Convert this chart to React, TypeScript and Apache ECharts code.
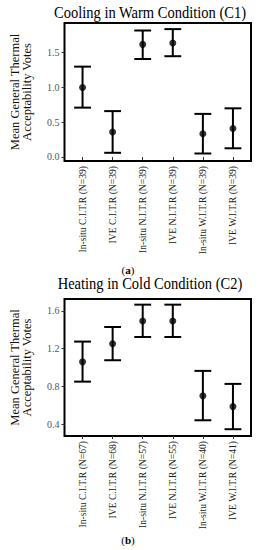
import React, { useEffect, useRef } from "react";
import * as echarts from "echarts";

const categories1 = [
  "In-situ C.I.T.R (N=39)",
  "IVE C.I.T.R (N=39)",
  "In-situ N.I.T.R (N=39)",
  "IVE N.I.T.R (N=39)",
  "In-situ W.I.T.R (N=39)",
  "IVE W.I.T.R (N=39)",
];
const mean1 = [1.0, 0.36, 1.62, 1.64, 0.335, 0.41];
const lower1 = [0.71, 0.06, 1.41, 1.45, 0.05, 0.125];
const upper1 = [1.3, 0.66, 1.82, 1.84, 0.62, 0.7];
const yTicks1 = [0, 0.5, 1.0, 1.5];

const categories2 = [
  "In-situ C.I.T.R (N=67)",
  "IVE C.I.T.R (N=68)",
  "In-situ N.I.T.R (N=57)",
  "IVE N.I.T.R (N=55)",
  "In-situ W.I.T.R (N=40)",
  "IVE W.I.T.R (N=41)",
];
const mean2 = [1.06, 1.253, 1.494, 1.494, 0.699, 0.585];
const lower2 = [0.85, 1.077, 1.324, 1.324, 0.44, 0.345];
const upper2 = [1.275, 1.43, 1.667, 1.667, 0.964, 0.826];
const yTicks2 = [0.4, 0.8, 1.2, 1.6];

const FONT = "Liberation Serif";
const xPos = [1, 2, 3, 4, 5, 6];

function makeX(idx: number, cats: string[]) {
  return {
    type: "value",
    gridIndex: idx,
    min: 0.4,
    max: 6.6,
    splitLine: { show: false },
    axisLine: { show: false },
    axisTick: { show: true, customValues: xPos, length: 3, lineStyle: { color: "#333", width: 1 } },
    axisLabel: {
      customValues: xPos,
      rotate: 90,
      margin: 5,
      fontFamily: FONT,
      fontSize: 9.6,
      color: "#222",
      formatter: (v: number) => cats[Math.round(v) - 1] ?? "",
    },
  };
}

function makeY(idx: number, min: number, max: number, ticks: number[]) {
  return {
    type: "value",
    gridIndex: idx,
    min,
    max,
    splitLine: { show: false },
    axisLine: { show: false },
    axisTick: { show: true, customValues: ticks, length: 3, lineStyle: { color: "#333", width: 1 } },
    axisLabel: {
      customValues: ticks,
      margin: 5,
      fontFamily: FONT,
      fontSize: 10,
      color: "#555",
      formatter: (v: number) => v.toFixed(1),
    },
    name: "Mean General Thermal\nAcceptability Votes",
    nameLocation: "middle",
    nameGap: 32,
    nameTextStyle: { fontFamily: FONT, fontSize: 12.5, lineHeight: 12, color: "#111" },
  };
}

function errRender(params: any, api: any) {
  const x = api.value(0);
  const lo = api.coord([x, api.value(1)]);
  const hi = api.coord([x, api.value(2)]);
  const half = api.size([0.28, 0])[0];
  const style = { stroke: "#000", lineWidth: 2 };
  return {
    type: "group",
    children: [
      { type: "line", shape: { x1: lo[0], y1: lo[1], x2: hi[0], y2: hi[1] }, style },
      { type: "line", shape: { x1: hi[0] - half, y1: hi[1], x2: hi[0] + half, y2: hi[1] }, style },
      { type: "line", shape: { x1: lo[0] - half, y1: lo[1], x2: lo[0] + half, y2: lo[1] }, style },
    ],
  };
}

function titleText(text: string, y: number) {
  return {
    type: "text",
    x: 150,
    y,
    scaleX: 0.88,
    style: {
      text,
      fontFamily: FONT,
      fontSize: 16.5,
      fill: "#000",
      align: "center",
      verticalAlign: "middle",
    },
  };
}

function captionText(letter: string, y: number) {
  return {
    type: "text",
    x: 128,
    y,
    style: {
      text: "{n|(}{b|" + letter + "}{n|)}",
      align: "center",
      verticalAlign: "middle",
      rich: {
        n: { fontFamily: FONT, fontSize: 11, fill: "#000" },
        b: { fontFamily: FONT, fontSize: 11, fontWeight: "bold", fill: "#000" },
      },
    },
  };
}

export default function App() {
  const ref = useRef<HTMLDivElement>(null);
  useEffect(() => {
    document.body.style.margin = "0";
    if (!ref.current) return;
    const chart = echarts.init(ref.current, undefined, { renderer: "svg" });
    const grids = [
      { left: 49, top: 23, width: 202, height: 138 },
      { left: 49, top: 299, width: 202, height: 137 },
    ].map((g) => ({ ...g, show: true, borderColor: "#000", borderWidth: 2, backgroundColor: "transparent" }));
    chart.setOption({
      animation: false,
      grid: grids,
      xAxis: [makeX(0, categories1), makeX(1, categories2)],
      yAxis: [makeY(0, -0.058, 1.928, yTicks1), makeY(1, 0.273, 1.727, yTicks2)],
      series: [
        {
          type: "custom",
          xAxisIndex: 0,
          yAxisIndex: 0,
          renderItem: errRender,
          encode: { x: 0, y: [1, 2] },
          data: xPos.map((x, i) => [x, lower1[i], upper1[i]]),
        },
        {
          type: "scatter",
          xAxisIndex: 0,
          yAxisIndex: 0,
          symbolSize: 7,
          itemStyle: { color: "#000" },
          data: xPos.map((x, i) => [x, mean1[i]]),
        },
        {
          type: "custom",
          xAxisIndex: 1,
          yAxisIndex: 1,
          renderItem: errRender,
          encode: { x: 0, y: [1, 2] },
          data: xPos.map((x, i) => [x, lower2[i], upper2[i]]),
        },
        {
          type: "scatter",
          xAxisIndex: 1,
          yAxisIndex: 1,
          symbolSize: 7,
          itemStyle: { color: "#000" },
          data: xPos.map((x, i) => [x, mean2[i]]),
        },
      ],
      graphic: [
        titleText("Cooling in Warm Condition (C1)", 12),
        titleText("Heating in Cold Condition (C2)", 283),
        captionText("a", 270),
        captionText("b", 540),
      ],
    });
    return () => chart.dispose();
  }, []);
  return <div ref={ref} style={{ width: 258, height: 550 }} />;
}
